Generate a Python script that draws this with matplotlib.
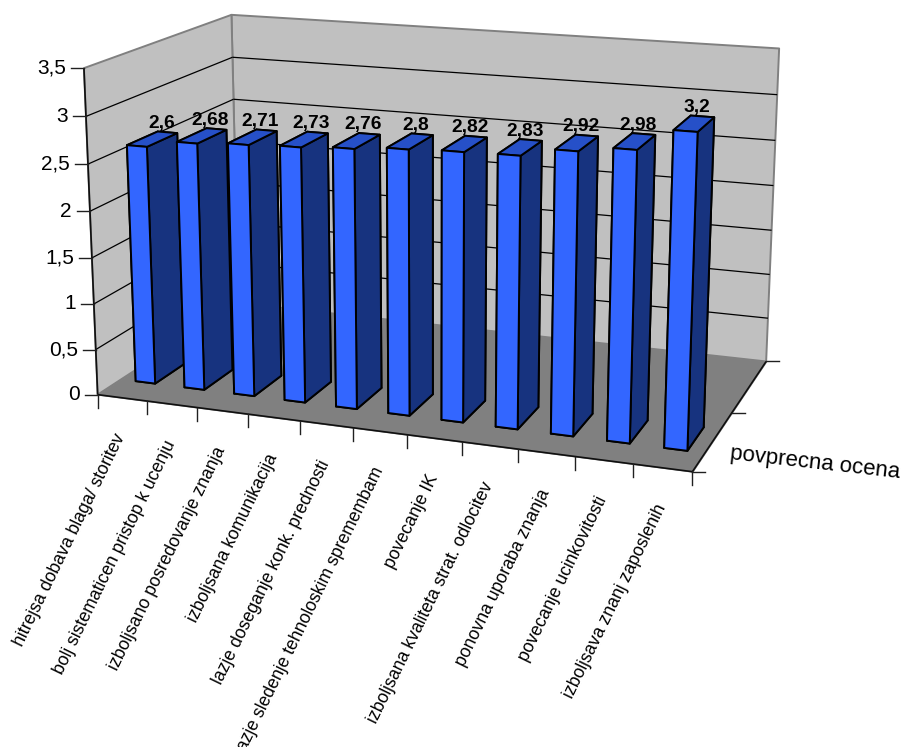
import numpy as np
import matplotlib
matplotlib.use('Agg')
import matplotlib.pyplot as plt
from matplotlib.lines import Line2D
from mpl_toolkits.mplot3d.art3d import Poly3DCollection, Line3DCollection

plt.rcParams['font.family'] = ['Liberation Sans', 'DejaVu Sans']

W, H = 903, 747

categories = ['hitrejsa dobava blaga/ storitev', 'bolj sistematicen pristop k ucenju',
              'izboljsano posredovanje znanja', 'izboljsana komunikacija',
              'lazje doseganje konk. prednosti', 'lazje sledenje tehnoloskim spremembam',
              'povecanje IK', 'izboljsana kvaliteta strat. odlocitev',
              'ponovna uporaba znanja', 'povecanje ucinkovitosti',
              'izboljsava znanj zaposlenih']
values = [2.6, 2.68, 2.71, 2.73, 2.76, 2.8, 2.82, 2.83, 2.92, 2.98, 3.2]
value_labels = ['2,6', '2,68', '2,71', '2,73', '2,76', '2,8', '2,82', '2,83', '2,92', '2,98', '3,2']
z_ticks = [0, 0.5, 1, 1.5, 2, 2.5, 3, 3.5]
z_tick_labels = ['0', '0,5', '1', '1,5', '2', '2,5', '3', '3,5']
series_name = 'povprecna ocena'

n = len(categories)
z_top = z_ticks[-1]

# camera: (x, y, z) in chart units -> pixel position, solved from the box corners and ticks
camera_points = [
    (0, 0, 0, 97.3, 393.3), (0, 0, 3.5, 83, 68), (0, 0, 3, 86, 117), (0, 0, 2.5, 89, 165),
    (0, 0, 2, 90, 211), (0, 1, 3.5, 231.7, 14.3), (0, 1, 3, 232.7, 56.7), (0, 1, 2.5, 233.5, 100),
    (11, 1, 3.5, 779.3, 48.3), (11, 1, 3, 776.7, 94), (11, 1, 2.5, 775, 140.7),
    (11, 1, 1.5, 772, 230.7), (11, 1, 0, 766, 361.7), (11, 0.5, 0, 731.7, 413),
    (11, 0, 0, 692.7, 470.7), (1, 0, 0, 146.7, 400.7), (2, 0, 0, 198, 407.7),
    (3, 0, 0, 247.5, 415), (4, 0, 0, 300.3, 421.7), (5, 0, 0, 353.3, 427.3),
    (6, 0, 0, 407.7, 435), (7, 0, 0, 462.3, 441.7), (8, 0, 0, 518.3, 449),
    (9, 0, 0, 575.7, 456.7), (10, 0, 0, 633.3, 464),
]


def solve_camera(points):
    rows = []
    for x, y, z, u, v in points:
        v = H - v
        rows.append([x, y, z, 1, 0, 0, 0, 0, -u * x, -u * y, -u * z, -u])
        rows.append([0, 0, 0, 0, x, y, z, 1, -v * x, -v * y, -v * z, -v])
    _, _, vt = np.linalg.svd(np.array(rows, dtype=float) / 100.0)
    P = vt[-1].reshape(3, 4)
    return P / (P[2] @ np.array([5.5, 0.5, 1.75, 1.0]))


P = solve_camera(camera_points)


def to_pixel(x, y, z):
    u, v, w = P @ np.array([x, y, z, 1.0])
    return u / w, v / w


fig = plt.figure(figsize=(W / 100, H / 100), dpi=100)
ax = fig.add_axes([0, 0, 1, 1], projection='3d', computed_zorder=False)
ax.set_axis_off()


def chart_proj():
    X, Y, Wr = ax.transData.inverted().get_matrix() @ P
    depth = np.array([-0.3 / n, 1.0, -0.1 / z_top, 0.0])
    return np.array([X, Y, depth, Wr])


ax.get_proj = chart_proj


def screen_line(x0, y0, x1, y1, color='black', lw=1.0):
    fig.add_artist(Line2D([x0 / W, x1 / W], [y0 / H, y1 / H], color=color, lw=lw))


# walls and floor
left_wall = [(0, 0, 0), (0, 1, 0), (0, 1, z_top), (0, 0, z_top)]
back_wall = [(0, 1, 0), (n, 1, 0), (n, 1, z_top), (0, 1, z_top)]
floor = [(0, 0, 0), (n, 0, 0), (n, 1, 0), (0, 1, 0)]
ax.add_collection3d(Poly3DCollection([left_wall, back_wall], facecolors='#C0C0C0',
                                     edgecolors='#808080', linewidths=1.4, zorder=1))
ax.add_collection3d(Poly3DCollection([floor], facecolors='#808080',
                                     edgecolors='#808080', linewidths=0.8, zorder=2))

# gridlines along both walls
grid_segments = []
for z in z_ticks[1:-1]:
    grid_segments.append([(0, 0, z), (0, 1, z)])
    grid_segments.append([(0, 1, z), (n, 1, z)])
ax.add_collection3d(Line3DCollection(grid_segments, colors='black', linewidths=0.9, zorder=3))

# axis lines
axis_segments = [[(0, 0, 0), (0, 0, z_top)], [(0, 0, 0), (n, 0, 0)], [(n, 0, 0), (n, 1, 0)]]
ax.add_collection3d(Line3DCollection(axis_segments, colors='#101010', linewidths=1.2, zorder=3))

# category ticks hang straight down from the front edge
for i in range(n + 1):
    u, v = to_pixel(i, 0, 0)
    screen_line(u, v, u, v - 13, color='#202020')

# value ticks and labels
for z, lab in zip(z_ticks, z_tick_labels):
    u, v = to_pixel(0, 0, z)
    screen_line(u - 13, v, u, v, color='#202020')
    fig.text((u - 18) / W, v / H, lab, fontsize=15, ha='right', va='center')

# depth axis ticks
for y in [0, 0.5, 1]:
    u, v = to_pixel(n, y, 0)
    screen_line(u, v, u + 13, v, color='#202020')

# bars
bar_x = 0.3
bar_w = 0.4
bar_y0 = 0.15
bar_d = 0.2
xs = np.arange(n) + bar_x
face_colors = ['#808080', '#2650C8', '#3366FF', '#808080', '#808080', '#17337F']
ax.bar3d(xs, np.full(n, bar_y0), np.zeros(n), bar_w, bar_d, values,
         color=face_colors * n, edgecolor='black', linewidth=1.4, shade=False, zorder=4)

# bar value labels sit over the back edge of each bar top
for i, (val, lab) in enumerate(zip(values, value_labels)):
    u, v = to_pixel(xs[i] + bar_w / 2, bar_y0 + bar_d, val)
    fig.text((u - 6) / W, (v + 9) / H, lab, fontsize=13.8, fontweight='bold', ha='center', va='center')

# category labels
for i, lab in enumerate(categories):
    u, v = to_pixel(i + 0.5, 0, 0)
    fig.text((u - 1) / W, (v - 37) / H, lab, fontsize=12.7, rotation=64, ha='right', va='center',
             rotation_mode='anchor')

fig.text(815 / W, (H - 463) / H, series_name, fontsize=16, rotation=-6.4, ha='center', va='center')

fig.savefig('out.png', dpi=100)
